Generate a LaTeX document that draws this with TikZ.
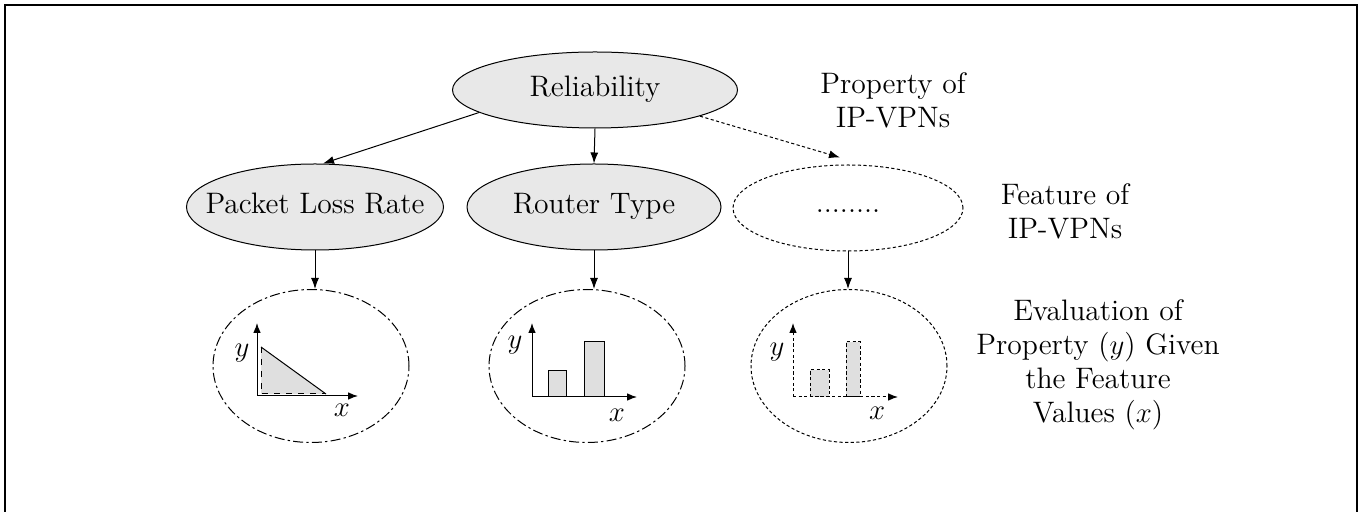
\documentclass[tikz,border=0pt]{standalone}
\usepackage{amsmath, amssymb}
\usepackage{tikz}
\usetikzlibrary{arrows.meta, positioning, shapes.geometric}
\tikzset{
    link/.style={-{Latex[length=5.5pt,width=4pt]}, line width=0.5pt},
    axis/.style={-{Latex[length=5pt,width=3.8pt]}, line width=0.5pt},
    finedash/.style={dash pattern=on 1.6pt off 1.2pt},
    evaldash/.style={dash pattern=on 5pt off 1.6pt on 1.2pt off 1.6pt},
    prop/.style={ellipse, draw, line width=0.5pt, fill=gray!18, inner sep=0pt, inner xsep=-12pt,
        text height=10pt, text depth=3pt},
    eval/.style={ellipse, draw, line width=0.5pt, minimum width=98pt, minimum height=76.5pt},
    bar/.style={fill=gray!25, line width=0.5pt},
    note/.style={align=center}
}

\begin{document}
\begin{tikzpicture}[x=0.5pt, y=-0.5pt, font=\fontsize{14.8}{17}\selectfont]
    \useasboundingbox (0,0) rectangle (1359,512);
    % Frame
    \draw[line width=1pt] (5,512) -- (5,5) -- (1357,5) -- (1357,512);
    % Property and features
    \node[prop, minimum width=142.5pt, minimum height=38pt] (rel) at (595,90) {Reliability};
    \node[prop, minimum width=128.5pt, minimum height=43pt] (plr) at (315,207) {Packet Loss Rate};
    \node[prop, minimum width=127pt, minimum height=43pt] (rt) at (594,207) {Router Type};
    \node[prop, finedash, fill=none, minimum width=115pt, minimum height=43pt, text depth=5pt] (more) at (848,208) {........};
    \draw[link] (rel.191) -- ([xshift=4pt]plr.north);
    \draw[link] (rel.south) -- (rt.north);
    \draw[link, finedash] (rel.-14) -- ([xshift=-4pt, yshift=3.5pt]more.north);
    % Evaluations
    \node[eval, evaldash] (ev1) at (311,366) {};
    \node[eval, evaldash] (ev2) at (587,366) {};
    \node[eval, finedash] (ev3) at (849,366) {};
    \draw[link] (plr.south) -- (plr.south |- ev1.north);
    \draw[link] (rt.south) -- (rt.south |- ev2.north);
    \draw[link] (more.south) -- (more.south |- ev3.north);
    % Plot 1: triangle
    \fill[gray!25] (261,347) -- (261,394) -- (326,394) -- cycle;
    \draw[line width=0.5pt] (261,347) -- (326,394);
    \draw[line width=0.5pt, dashed] (261,347) -- (261,394) -- (326,394);
    \draw[axis] (257,396) -- (257,323);
    \draw[axis] (257,396) -- (358,396);
    \node (y1) at (242,353) {$y$};
    \node (x1) at (342,410) {$x$};
    % Plot 2: bars
    \draw[bar] (548,397) rectangle (566,371);
    \draw[bar] (584,397) rectangle (604,342);
    \draw[axis] (532,397) -- (532,323);
    \draw[axis] (532,397) -- (637,397);
    \node (y2) at (515,345) {$y$};
    \node (x2) at (617,415) {$x$};
    % Plot 3: dashed bars
    \draw[bar, finedash] (810,397) rectangle (829,370);
    \draw[bar, finedash] (846,397) rectangle (860,342);
    \draw[axis, finedash] (793,397) -- (793,323);
    \draw[axis, finedash] (793,397) -- (898,397);
    \node (y3) at (777,352) {$y$};
    \node (x3) at (877,413) {$x$};
    % Notes
    \node[note] (n1) at (893,100) {Property of\\IP-VPNs};
    \node[note] (n2) at (1065,211) {Feature of\\IP-VPNs};
    \node[note] (n3) at (1098,365) {Evaluation of\\Property ($y$) Given\\the Feature\\Values ($x$)};
\end{tikzpicture}
\end{document}
